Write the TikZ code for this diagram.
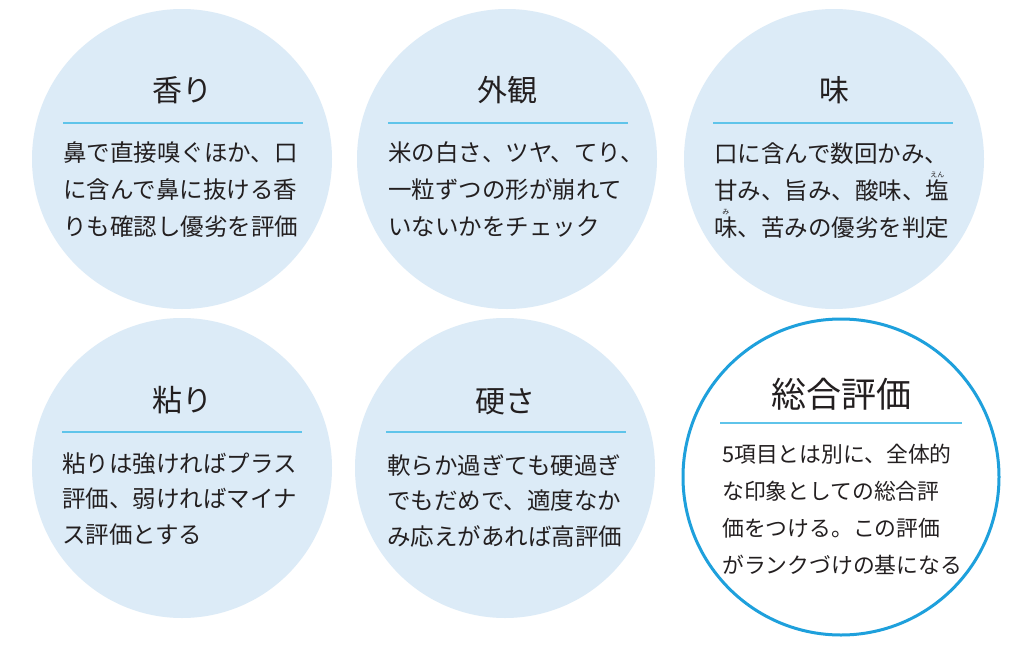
\documentclass[tikz,border=0pt]{standalone}
\usepackage{fontspec}
\setmainfont{Noto Sans CJK JP}
\definecolor{circfill}{RGB}{220,235,247}
\definecolor{rulecol}{RGB}{95,196,234}
\definecolor{ringcol}{RGB}{30,160,220}
\definecolor{txtcol}{RGB}{35,31,32}
\newcommand\furi[2]{\leavevmode\rlap{\raisebox{0.92em}[0pt][0pt]{\makebox[1em][c]{\fontsize{7}{7}\selectfont #2}}}#1}
\tikzset{
  bubble/.style={circle, fill=circfill, inner sep=0pt, minimum size=300pt},
  finalbubble/.style={circle, fill=white, draw=ringcol, line width=3pt, inner sep=0pt, minimum size=316pt},
  ttl/.style={anchor=base, inner sep=0pt, text=txtcol, font=\fontsize{30}{30}\selectfont},
  bigttl/.style={anchor=base, inner sep=0pt, text=txtcol, font=\fontsize{35}{35}\selectfont},
  bodytop/.style={anchor=base west, inner sep=0pt, align=left, text=txtcol, font=\fontsize{23.5}{37}\selectfont},
  bodybot/.style={anchor=base west, inner sep=0pt, align=left, text=txtcol, font=\fontsize{23.5}{35.5}\selectfont},
  bodyfinal/.style={anchor=base west, inner sep=0pt, align=left, text=txtcol, font=\fontsize{21.8}{37}\selectfont},
  rulebar/.style={draw=rulecol, line width=2pt}
}
\begin{document}
\begin{tikzpicture}[x=1pt,y=-1pt]
\useasboundingbox (0,0) rectangle (1023,645);
\fill[white] (0,0) rectangle (1023,645);
% circles
\node[bubble] (c1) at (182,159) {};
\node[bubble] (c2) at (507,159) {};
\node[bubble] (c3) at (834,159) {};
\node[bubble] (c4) at (182,468) {};
\node[bubble] (c5) at (505,468) {};
\node[finalbubble] (c6) at (841,477) {};
% titles
\node[ttl] (t1) at (182,101) {香り};
\node[ttl] (t2) at (507,101) {外観};
\node[ttl] (t3) at (834,101) {味};
\node[ttl] (t4) at (182,411) {粘り};
\node[ttl] (t5) at (505,412) {硬さ};
\node[bigttl] (t6) at (841,407) {総合評価};
% rules
\coordinate (r1a) at (63,123);  \coordinate (r1b) at (303,123);
\coordinate (r2a) at (388,123); \coordinate (r2b) at (628,123);
\coordinate (r3a) at (713,123); \coordinate (r3b) at (953,123);
\coordinate (r4a) at (62,432);  \coordinate (r4b) at (302,432);
\coordinate (r5a) at (386,432); \coordinate (r5b) at (626,432);
\coordinate (r6a) at (720,423); \coordinate (r6b) at (962,423);
\draw[rulebar] (r1a) -- (r1b);
\draw[rulebar] (r2a) -- (r2b);
\draw[rulebar] (r3a) -- (r3b);
\draw[rulebar] (r4a) -- (r4b);
\draw[rulebar] (r5a) -- (r5b);
\draw[rulebar] (r6a) -- (r6b);
% bodies (anchor at the baseline of the last line)
\node[bodytop] (b1) at (63,235) {鼻で直接嗅ぐほか、口\\に含んで鼻に抜ける香\\りも確認し優劣を評価};
\node[bodytop] (b2) at (388,235) {米の白さ、ツヤ、てり、\\一粒ずつの形が崩れて\\いないかをチェック};
\node[bodytop] (b3) at (714,236) {口に含んで数回かみ、\\甘み、旨み、酸味、\furi{塩}{えん}\\\furi{味}{み}、苦みの優劣を判定};
\node[bodybot] (b4) at (62,543) {粘りは強ければプラス\\評価、弱ければマイナ\\ス評価とする};
\node[bodybot] (b5) at (387,545) {軟らか過ぎても硬過ぎ\\でもだめで、適度なか\\み応えがあれば高評価};
\node[bodyfinal] (b6) at (722,573) {5項目とは別に、全体的\\な印象としての総合評\\価をつける。この評価\\がランクづけの基になる};
\end{tikzpicture}
\end{document}
